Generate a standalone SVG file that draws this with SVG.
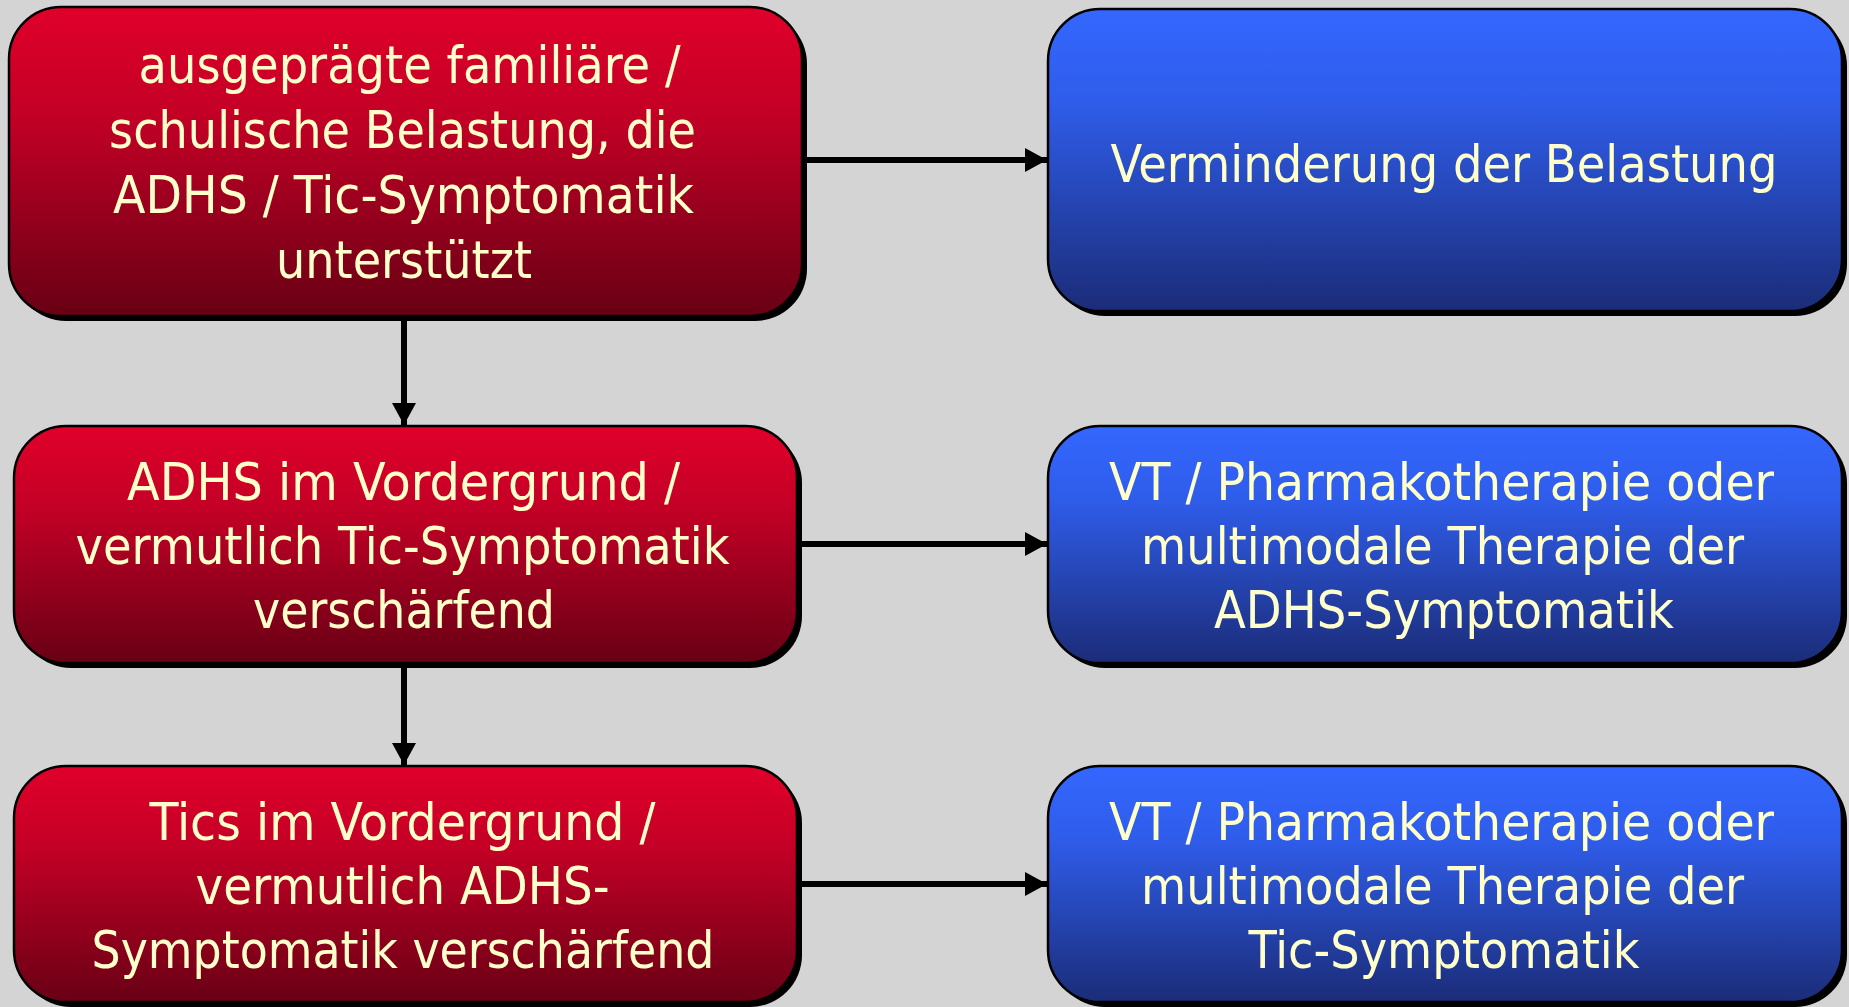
<svg xmlns="http://www.w3.org/2000/svg" width="1849" height="1007" viewBox="0 0 1849 1007">
  <defs>
    <linearGradient id="redFill" x1="0" y1="0" x2="0" y2="1">
      <stop offset="0" stop-color="#E0002A"/>
      <stop offset="0.35" stop-color="#C30026"/>
      <stop offset="1" stop-color="#680014"/>
    </linearGradient>
    <linearGradient id="blueFill" x1="0" y1="0" x2="0" y2="1">
      <stop offset="0" stop-color="#3467FF"/>
      <stop offset="0.3" stop-color="#2F5DEB"/>
      <stop offset="1" stop-color="#1B2C78"/>
    </linearGradient>
    <marker id="arrowHead" viewBox="0 0 22 24" refX="22" refY="12" markerWidth="22" markerHeight="24" markerUnits="userSpaceOnUse" orient="auto">
      <path d="M0,0 L22,12 L0,24 Z" fill="#000"/>
    </marker>
  </defs>
  <style>
    .shadow { fill: #000; }
    .red { fill: url(#redFill); stroke: #000; stroke-width: 2.5; }
    .blue { fill: url(#blueFill); stroke: #000; stroke-width: 2.5; }
    .label { font-family: "DejaVu Sans Condensed", "DejaVu Sans", sans-serif; font-stretch: condensed; font-size: 52px; fill: #FFFFCC; text-anchor: middle; }
    .conn { stroke: #000; stroke-width: 6; fill: none; marker-end: url(#arrowHead); }
  </style>

  <rect width="1849" height="1007" fill="#D4D4D4"/>

  <!-- connectors -->
  <g id="connectors">
    <line class="conn" x1="803" y1="160" x2="1047" y2="160"/>
    <line class="conn" x1="798" y1="544" x2="1047" y2="544"/>
    <line class="conn" x1="798" y1="884" x2="1047" y2="884"/>
    <line class="conn" x1="404" y1="317" x2="404" y2="425"/>
    <line class="conn" x1="404" y1="664" x2="404" y2="765"/>
  </g>

  <g id="node-belastung">
    <rect class="shadow" x="14" y="12" width="793" height="309" rx="52"/>
    <rect class="red" x="9" y="7" width="793" height="309" rx="52"/>
    <text class="label">
      <tspan x="417" y="83" textLength="542" lengthAdjust="spacingAndGlyphs">ausgeprägte familiäre /</tspan>
      <tspan x="410" y="148" textLength="587" lengthAdjust="spacingAndGlyphs">schulische Belastung, die</tspan>
      <tspan x="411" y="213" textLength="581" lengthAdjust="spacingAndGlyphs">ADHS / Tic-Symptomatik</tspan>
      <tspan x="404" y="278" textLength="256" lengthAdjust="spacingAndGlyphs">unterstützt</tspan>
    </text>
  </g>

  <g id="node-adhs">
    <rect class="shadow" x="19" y="431" width="783" height="237" rx="52"/>
    <rect class="red" x="14" y="426" width="783" height="237" rx="52"/>
    <text class="label">
      <tspan x="411" y="500" textLength="553" lengthAdjust="spacingAndGlyphs">ADHS im Vordergrund /</tspan>
      <tspan x="410" y="564" textLength="654" lengthAdjust="spacingAndGlyphs">vermutlich Tic-Symptomatik</tspan>
      <tspan x="404" y="628" textLength="302" lengthAdjust="spacingAndGlyphs">verschärfend</tspan>
    </text>
  </g>

  <g id="node-tics">
    <rect class="shadow" x="19" y="771" width="783" height="236" rx="52"/>
    <rect class="red" x="14" y="766" width="783" height="236" rx="52"/>
    <text class="label">
      <tspan x="410" y="840" textLength="506" lengthAdjust="spacingAndGlyphs">Tics im Vordergrund /</tspan>
      <tspan x="410" y="904" textLength="414" lengthAdjust="spacingAndGlyphs">vermutlich ADHS-</tspan>
      <tspan x="403" y="968" textLength="623" lengthAdjust="spacingAndGlyphs">Symptomatik verschärfend</tspan>
    </text>
  </g>

  <g id="node-verminderung">
    <rect class="shadow" x="1053" y="14" width="794" height="302" rx="52"/>
    <rect class="blue" x="1048" y="9" width="794" height="302" rx="52"/>
    <text class="label">
      <tspan x="1444" y="182" textLength="667" lengthAdjust="spacingAndGlyphs">Verminderung der Belastung</tspan>
    </text>
  </g>

  <g id="node-therapie-adhs">
    <rect class="shadow" x="1053" y="431" width="794" height="237" rx="52"/>
    <rect class="blue" x="1048" y="426" width="794" height="237" rx="52"/>
    <text class="label">
      <tspan x="1449" y="500" textLength="665" lengthAdjust="spacingAndGlyphs">VT / Pharmakotherapie oder</tspan>
      <tspan x="1450" y="564" textLength="603" lengthAdjust="spacingAndGlyphs">multimodale Therapie der</tspan>
      <tspan x="1444" y="628" textLength="460" lengthAdjust="spacingAndGlyphs">ADHS-Symptomatik</tspan>
    </text>
  </g>

  <g id="node-therapie-tics">
    <rect class="shadow" x="1053" y="771" width="794" height="236" rx="52"/>
    <rect class="blue" x="1048" y="766" width="794" height="236" rx="52"/>
    <text class="label">
      <tspan x="1449" y="840" textLength="665" lengthAdjust="spacingAndGlyphs">VT / Pharmakotherapie oder</tspan>
      <tspan x="1450" y="904" textLength="603" lengthAdjust="spacingAndGlyphs">multimodale Therapie der</tspan>
      <tspan x="1444" y="968" textLength="391" lengthAdjust="spacingAndGlyphs">Tic-Symptomatik</tspan>
    </text>
  </g>
</svg>
